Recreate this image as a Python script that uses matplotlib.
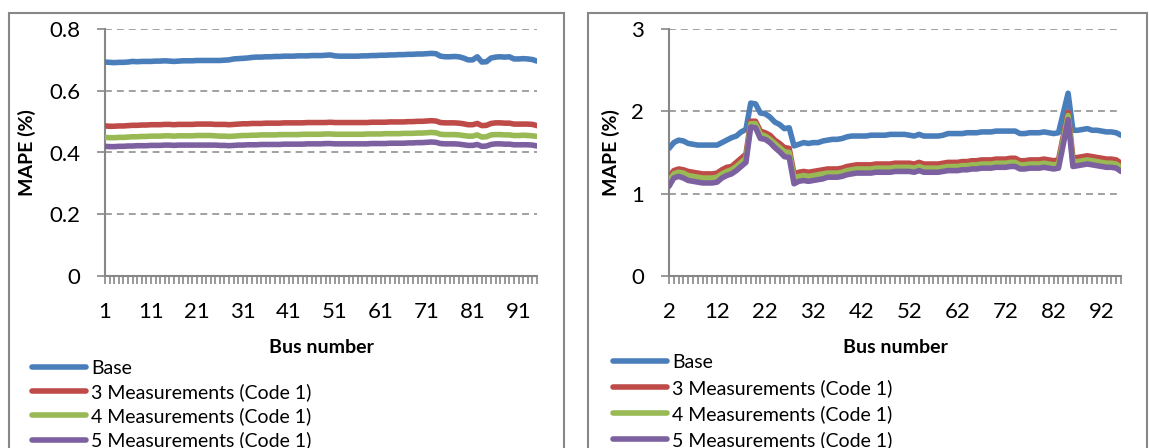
import numpy as np
import matplotlib
matplotlib.use("Agg")
import matplotlib.pyplot as plt
from matplotlib.patches import Rectangle

plt.rcParams['font.family'] = ['Lato', 'DejaVu Sans']

# ---- data: left chart, buses 1..95 ----
bus_left = list(range(1, 96))
base_left = [
    0.693, 0.692, 0.691, 0.692, 0.692, 0.693, 0.695, 0.694, 0.695, 0.695,
    0.695, 0.696, 0.696, 0.697, 0.696, 0.695, 0.696, 0.697, 0.697, 0.697,
    0.698, 0.698, 0.698, 0.698, 0.698, 0.698, 0.699, 0.700, 0.703, 0.704,
    0.705, 0.706, 0.708, 0.709, 0.709, 0.710, 0.710, 0.711, 0.711, 0.712,
    0.712, 0.712, 0.713, 0.713, 0.713, 0.714, 0.714, 0.714, 0.715, 0.716,
    0.713, 0.712, 0.712, 0.712, 0.712, 0.712, 0.713, 0.713, 0.714, 0.714,
    0.715, 0.715, 0.716, 0.716, 0.717, 0.717, 0.718, 0.718, 0.719, 0.719,
    0.720, 0.721, 0.720, 0.712, 0.710, 0.710, 0.711, 0.710, 0.706, 0.700,
    0.700, 0.710, 0.693, 0.694, 0.706, 0.709, 0.710, 0.709, 0.710, 0.703,
    0.703, 0.704, 0.703, 0.701, 0.696,
]
m3_left = [
    0.486, 0.485, 0.485, 0.486, 0.486, 0.487, 0.488, 0.488, 0.489, 0.489,
    0.490, 0.490, 0.490, 0.491, 0.491, 0.490, 0.491, 0.491, 0.491, 0.491,
    0.492, 0.492, 0.492, 0.492, 0.491, 0.491, 0.491, 0.490, 0.491, 0.492,
    0.493, 0.493, 0.494, 0.494, 0.494, 0.495, 0.495, 0.495, 0.495, 0.496,
    0.496, 0.496, 0.496, 0.496, 0.497, 0.497, 0.497, 0.497, 0.497, 0.498,
    0.497, 0.497, 0.497, 0.497, 0.497, 0.497, 0.497, 0.497, 0.498, 0.498,
    0.498, 0.498, 0.499, 0.499, 0.499, 0.499, 0.500, 0.500, 0.501, 0.501,
    0.502, 0.503, 0.502, 0.497, 0.496, 0.496, 0.496, 0.495, 0.493, 0.490,
    0.490, 0.494, 0.487, 0.488, 0.494, 0.496, 0.496, 0.495, 0.495, 0.492,
    0.492, 0.492, 0.492, 0.491, 0.487,
]
m4_left = [
    0.449, 0.448, 0.448, 0.449, 0.449, 0.450, 0.451, 0.451, 0.452, 0.452,
    0.453, 0.453, 0.453, 0.454, 0.454, 0.453, 0.454, 0.454, 0.454, 0.454,
    0.455, 0.455, 0.455, 0.455, 0.454, 0.453, 0.453, 0.452, 0.453, 0.454,
    0.455, 0.455, 0.456, 0.456, 0.457, 0.457, 0.457, 0.457, 0.458, 0.458,
    0.458, 0.458, 0.458, 0.459, 0.459, 0.459, 0.459, 0.459, 0.460, 0.460,
    0.459, 0.459, 0.459, 0.459, 0.459, 0.459, 0.459, 0.460, 0.460, 0.460,
    0.460, 0.461, 0.461, 0.461, 0.461, 0.462, 0.462, 0.462, 0.463, 0.463,
    0.464, 0.465, 0.464, 0.459, 0.458, 0.458, 0.458, 0.457, 0.455, 0.453,
    0.453, 0.457, 0.450, 0.451, 0.457, 0.458, 0.458, 0.457, 0.457, 0.455,
    0.455, 0.456, 0.455, 0.454, 0.452,
]
m5_left = [
    0.420, 0.419, 0.419, 0.420, 0.420, 0.421, 0.421, 0.422, 0.422, 0.422,
    0.423, 0.423, 0.423, 0.424, 0.424, 0.423, 0.424, 0.424, 0.424, 0.424,
    0.424, 0.424, 0.424, 0.424, 0.424, 0.423, 0.423, 0.422, 0.423, 0.424,
    0.424, 0.425, 0.425, 0.425, 0.426, 0.426, 0.426, 0.426, 0.426, 0.427,
    0.427, 0.427, 0.427, 0.427, 0.428, 0.428, 0.428, 0.428, 0.429, 0.429,
    0.428, 0.428, 0.428, 0.428, 0.428, 0.428, 0.428, 0.428, 0.429, 0.429,
    0.429, 0.429, 0.430, 0.430, 0.430, 0.430, 0.431, 0.431, 0.432, 0.432,
    0.433, 0.434, 0.433, 0.429, 0.428, 0.428, 0.428, 0.427, 0.425, 0.423,
    0.423, 0.426, 0.420, 0.421, 0.426, 0.428, 0.428, 0.427, 0.427, 0.425,
    0.425, 0.425, 0.425, 0.424, 0.421,
]

# ---- data: right chart, buses 2..96 ----
bus_right = list(range(2, 97))
base_right = [
    1.55, 1.62, 1.65, 1.64, 1.61, 1.60, 1.59, 1.59, 1.59, 1.59,
    1.59, 1.62, 1.65, 1.68, 1.70, 1.75, 1.78, 2.10, 2.09, 1.98,
    1.97, 1.93, 1.87, 1.84, 1.79, 1.80, 1.58, 1.60, 1.62, 1.61,
    1.62, 1.62, 1.64, 1.65, 1.66, 1.66, 1.67, 1.69, 1.70, 1.70,
    1.70, 1.70, 1.71, 1.71, 1.71, 1.71, 1.72, 1.72, 1.72, 1.72,
    1.71, 1.70, 1.72, 1.70, 1.70, 1.70, 1.70, 1.71, 1.73, 1.73,
    1.73, 1.73, 1.74, 1.74, 1.74, 1.75, 1.75, 1.75, 1.76, 1.76,
    1.76, 1.76, 1.76, 1.73, 1.73, 1.74, 1.74, 1.74, 1.75, 1.74,
    1.73, 1.74, 1.98, 2.22, 1.77, 1.77, 1.78, 1.79, 1.77, 1.77,
    1.76, 1.75, 1.75, 1.74, 1.71,
]
m3_right = [
    1.20, 1.28, 1.30, 1.29, 1.27, 1.26, 1.25, 1.24, 1.24, 1.24,
    1.25, 1.29, 1.32, 1.33, 1.38, 1.43, 1.48, 1.88, 1.88, 1.76,
    1.74, 1.71, 1.65, 1.61, 1.56, 1.55, 1.24, 1.26, 1.27, 1.26,
    1.27, 1.28, 1.29, 1.30, 1.30, 1.30, 1.31, 1.33, 1.34, 1.35,
    1.35, 1.35, 1.35, 1.36, 1.36, 1.36, 1.36, 1.37, 1.37, 1.37,
    1.37, 1.36, 1.38, 1.36, 1.36, 1.36, 1.36, 1.37, 1.38, 1.38,
    1.38, 1.39, 1.39, 1.40, 1.40, 1.41, 1.41, 1.41, 1.42, 1.42,
    1.42, 1.43, 1.43, 1.40, 1.40, 1.41, 1.41, 1.41, 1.42, 1.41,
    1.40, 1.41, 1.70, 1.99, 1.43, 1.44, 1.45, 1.46, 1.45, 1.44,
    1.43, 1.42, 1.42, 1.41, 1.37,
]
m4_right = [
    1.15, 1.24, 1.26, 1.25, 1.22, 1.21, 1.20, 1.19, 1.19, 1.19,
    1.20, 1.24, 1.27, 1.29, 1.33, 1.38, 1.43, 1.85, 1.85, 1.72,
    1.70, 1.66, 1.61, 1.56, 1.51, 1.50, 1.19, 1.21, 1.22, 1.21,
    1.22, 1.23, 1.24, 1.25, 1.25, 1.25, 1.26, 1.28, 1.29, 1.30,
    1.30, 1.30, 1.30, 1.31, 1.31, 1.31, 1.31, 1.32, 1.32, 1.32,
    1.32, 1.31, 1.33, 1.31, 1.31, 1.31, 1.31, 1.32, 1.33, 1.33,
    1.33, 1.34, 1.34, 1.35, 1.35, 1.36, 1.36, 1.36, 1.37, 1.37,
    1.37, 1.38, 1.38, 1.35, 1.35, 1.36, 1.36, 1.36, 1.37, 1.36,
    1.35, 1.36, 1.66, 1.95, 1.38, 1.39, 1.40, 1.41, 1.40, 1.39,
    1.38, 1.37, 1.37, 1.36, 1.32,
]
m5_right = [
    1.09, 1.19, 1.21, 1.19, 1.16, 1.15, 1.14, 1.13, 1.13, 1.13,
    1.14, 1.19, 1.22, 1.24, 1.28, 1.33, 1.38, 1.81, 1.80, 1.67,
    1.66, 1.62, 1.56, 1.51, 1.45, 1.44, 1.12, 1.15, 1.16, 1.15,
    1.16, 1.17, 1.18, 1.20, 1.20, 1.20, 1.21, 1.23, 1.24, 1.25,
    1.25, 1.25, 1.25, 1.26, 1.26, 1.26, 1.26, 1.27, 1.27, 1.27,
    1.27, 1.26, 1.28, 1.26, 1.26, 1.26, 1.26, 1.27, 1.28, 1.28,
    1.28, 1.29, 1.29, 1.30, 1.30, 1.31, 1.31, 1.31, 1.32, 1.32,
    1.32, 1.33, 1.33, 1.30, 1.30, 1.31, 1.31, 1.31, 1.32, 1.31,
    1.30, 1.31, 1.60, 1.90, 1.33, 1.34, 1.35, 1.36, 1.35, 1.34,
    1.33, 1.32, 1.32, 1.31, 1.27,
]

series_names = ["Base", "3 Measurements (Code 1)", "4 Measurements (Code 1)", "5 Measurements (Code 1)"]
colors = ["#4A7EBB", "#BE4B48", "#98B954", "#7D60A0"]
gray = "#878787"

W, H = 1149, 448
fig = plt.figure(figsize=(W / 100, H / 100), dpi=100)


def px_axes(x0, x1, ytop, ybot):
    return fig.add_axes([x0 / W, 1 - ybot / H, (x1 - x0) / W, (ybot - ytop) / H])


def style_chart(ax, buses, series, ymax, yticks, ylabels, ylab_x, legend_xy, legend_sp):
    for vals, name, c in zip(series, series_names, colors):
        ax.plot(buses, vals, color=c, lw=4, label=name, solid_capstyle='round',
                solid_joinstyle='round', zorder=3)
    ax.set_xlim(buses[0], buses[-1])
    ax.set_ylim(0, ymax)
    ax.set_yticks(yticks)
    ax.set_yticklabels(ylabels)
    ax.set_xticks(buses)
    ax.set_xticklabels([str(b) if (b - buses[0]) % 10 == 0 else "" for b in buses])
    ax.tick_params(axis='both', colors=gray, labelcolor='black', labelsize=16,
                   length=6, width=1.2)
    ax.tick_params(axis='y', pad=12)
    ax.tick_params(axis='x', pad=13)
    for s in ['top', 'right']:
        ax.spines[s].set_visible(False)
    for s in ['left', 'bottom']:
        ax.spines[s].set_color(gray)
        ax.spines[s].set_linewidth(1.5)
    ax.yaxis.grid(True, color=gray, lw=1.1, linestyle=(0, (4.5, 3.3)))
    ax.set_axisbelow(True)
    ax.set_ylabel("MAPE (%)", fontsize=14, fontweight='bold')
    ax.yaxis.set_label_coords(ylab_x, 0.5)
    ax.set_xlabel("Bus number", fontsize=14, fontweight='bold')
    ax.xaxis.set_label_coords(0.5, -0.255)
    ax.legend(loc='upper left', bbox_to_anchor=(legend_xy[0] / W, 1 - legend_xy[1] / H),
              bbox_transform=fig.transFigure, frameon=False, fontsize=14,
              handlelength=2.8, handletextpad=0.25, labelspacing=legend_sp,
              borderaxespad=0, borderpad=0)


ax1 = px_axes(105, 537, 29, 276)
style_chart(ax1, bus_left, [base_left, m3_left, m4_left, m5_left], 0.8,
            [0, 0.2, 0.4, 0.6, 0.8], ["0", "0.2", "0.4", "0.6", "0.8"],
            -0.160, (32, 360), 0.32)

ax2 = px_axes(669, 1121, 29, 276)
style_chart(ax2, bus_right, [base_right, m3_right, m4_right, m5_right], 3,
            [0, 1, 2, 3], ["0", "1", "2", "3"],
            -0.108, (613, 354), 0.42)

# outer chart borders (cut off at the bottom like the source)
for x0, x1 in [(9, 564), (588, 1147)]:
    fig.patches.append(Rectangle((x0 / W, -0.2), (x1 - x0) / W, 1.2 - 13 / H,
                                 transform=fig.transFigure, fill=False,
                                 edgecolor=gray, lw=1.5, zorder=0))

fig.savefig("out.png", dpi=100)
